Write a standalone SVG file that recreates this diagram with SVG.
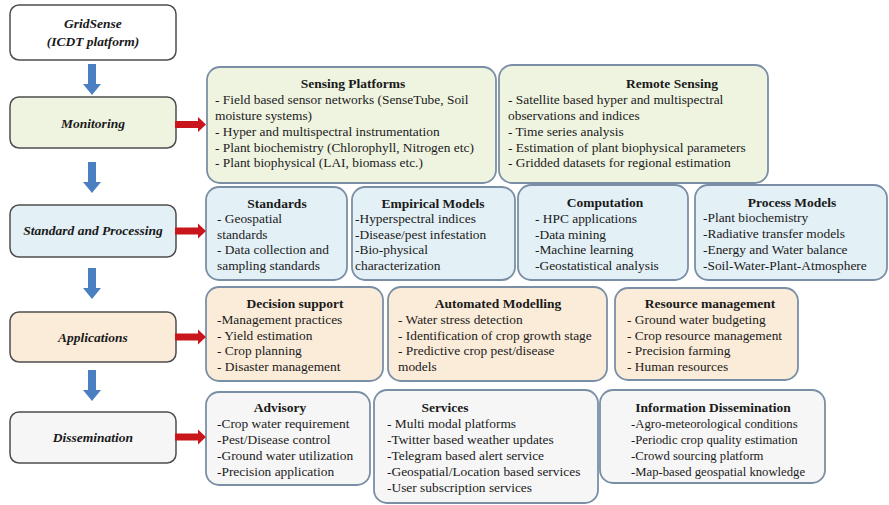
<svg xmlns="http://www.w3.org/2000/svg" width="889" height="505" viewBox="0 0 889 505">
  <style>
    .stage { stroke: #4d4d4d; stroke-width: 1.5; }
    .card { stroke: #7a8fa6; stroke-width: 1.8; }
    .green { fill: #eff4e1; }
    .blue { fill: #e3f0f6; }
    .peach { fill: #fbecd9; }
    .grey { fill: #f6f6f6; }
    .white { fill: #ffffff; }
    text { font-family: "Liberation Serif", "Times New Roman", serif; fill: #1a1a1a; }
    .label { font-size: 13.5px; font-weight: bold; font-style: italic; text-anchor: middle; }
    .title { font-size: 13.5px; font-weight: bold; text-anchor: middle; }
    .item { font-size: 13.4px; }
    .item.small { font-size: 12.7px; }
    .down { fill: #4a80c2; }
    .right { fill: #c8161c; }
  </style>

  <!-- stage boxes on the left -->
  <g id="gridsense">
    <rect class="stage white" x="10" y="5" width="166" height="55" rx="9"/>
    <text class="label" x="93" y="28">GridSense</text>
    <text class="label" x="93" y="46">(ICDT platform)</text>
  </g>
  <g id="monitoring">
    <rect class="stage green" x="10" y="97" width="166" height="51" rx="9"/>
    <text class="label" x="93" y="128">Monitoring</text>
  </g>
  <g id="standard-processing">
    <rect class="stage blue" x="10" y="205" width="166" height="52" rx="9"/>
    <text class="label" x="93" y="235">Standard and Processing</text>
  </g>
  <g id="applications">
    <rect class="stage peach" x="10" y="312" width="166" height="50" rx="9"/>
    <text class="label" x="93" y="342">Applications</text>
  </g>
  <g id="dissemination">
    <rect class="stage grey" x="10" y="412" width="166" height="51" rx="9"/>
    <text class="label" x="93" y="442">Dissemination</text>
  </g>

  <!-- monitoring row -->
  <g id="sensing-platforms">
    <rect class="card green" x="207" y="67" width="289" height="116" rx="13"/>
    <text class="title" x="353" y="88">Sensing Platforms</text>
    <text class="item" x="215" y="104">- Field based sensor networks (SenseTube, Soil</text>
    <text class="item" x="215" y="120">moisture systems)</text>
    <text class="item" x="215" y="136">- Hyper and multispectral instrumentation</text>
    <text class="item" x="215" y="152">- Plant biochemistry (Chlorophyll, Nitrogen etc)</text>
    <text class="item" x="215" y="167">- Plant biophysical (LAI, biomass etc.)</text>
  </g>
  <g id="remote-sensing">
    <rect class="card green" x="499" y="65" width="269" height="118" rx="13"/>
    <text class="title" x="672" y="88">Remote Sensing</text>
    <text class="item" x="508" y="104">- Satellite based hyper and multispectral</text>
    <text class="item" x="508" y="120">observations and indices</text>
    <text class="item" x="508" y="136">- Time series analysis</text>
    <text class="item" x="508" y="152">- Estimation of plant biophysical parameters</text>
    <text class="item" x="508" y="167">- Gridded datasets for regional estimation</text>
  </g>

  <!-- standard and processing row -->
  <g id="standards">
    <rect class="card blue" x="206" y="187" width="141" height="93" rx="13"/>
    <text class="title" x="277" y="208">Standards</text>
    <text class="item" x="217" y="223">- Geospatial</text>
    <text class="item" x="217" y="239">standards</text>
    <text class="item" x="217" y="254">- Data collection and</text>
    <text class="item" x="217" y="270">sampling standards</text>
  </g>
  <g id="empirical-models">
    <rect class="card blue" x="352" y="187" width="163" height="93" rx="13"/>
    <text class="title" x="433" y="208">Empirical Models</text>
    <text class="item" x="355" y="223">-Hyperspectral indices</text>
    <text class="item" x="355" y="239">-Disease/pest infestation</text>
    <text class="item" x="355" y="254">-Bio-physical</text>
    <text class="item" x="355" y="270">characterization</text>
  </g>
  <g id="computation">
    <rect class="card blue" x="518" y="185" width="170" height="95" rx="13"/>
    <text class="title" x="605" y="207">Computation</text>
    <text class="item" x="535" y="223">- HPC applications</text>
    <text class="item" x="535" y="239">-Data mining</text>
    <text class="item" x="535" y="254">-Machine learning</text>
    <text class="item" x="535" y="270">-Geostatistical analysis</text>
  </g>
  <g id="process-models">
    <rect class="card blue" x="695" y="185" width="192" height="95" rx="13"/>
    <text class="title" x="792" y="207">Process Models</text>
    <text class="item" x="703" y="222">-Plant biochemistry</text>
    <text class="item" x="703" y="238">-Radiative transfer models</text>
    <text class="item" x="703" y="254">-Energy and Water balance</text>
    <text class="item" x="703" y="270">-Soil-Water-Plant-Atmosphere</text>
  </g>

  <!-- applications row -->
  <g id="decision-support">
    <rect class="card peach" x="206" y="287" width="177" height="94" rx="13"/>
    <text class="title" x="295" y="308">Decision support</text>
    <text class="item" x="217" y="324">-Management practices</text>
    <text class="item" x="217" y="340">- Yield estimation</text>
    <text class="item" x="217" y="355">- Crop planning</text>
    <text class="item" x="217" y="371">- Disaster management</text>
  </g>
  <g id="automated-modelling">
    <rect class="card peach" x="388" y="287" width="219" height="94" rx="13"/>
    <text class="title" x="498" y="308">Automated Modelling</text>
    <text class="item" x="398" y="324">- Water stress detection</text>
    <text class="item" x="398" y="340">- Identification of crop growth stage</text>
    <text class="item" x="398" y="355">- Predictive crop pest/disease</text>
    <text class="item" x="398" y="371">models</text>
  </g>
  <g id="resource-management">
    <rect class="card peach" x="615" y="288" width="183" height="92" rx="13"/>
    <text class="title" x="710" y="308">Resource management</text>
    <text class="item" x="627" y="324">- Ground water budgeting</text>
    <text class="item" x="627" y="340">- Crop resource management</text>
    <text class="item" x="627" y="355">- Precision farming</text>
    <text class="item" x="627" y="371">- Human resources</text>
  </g>

  <!-- dissemination row -->
  <g id="advisory">
    <rect class="card grey" x="206" y="392" width="164" height="93" rx="13"/>
    <text class="title" x="280" y="412">Advisory</text>
    <text class="item" x="217" y="428">-Crop water requirement</text>
    <text class="item" x="217" y="444">-Pest/Disease control</text>
    <text class="item" x="217" y="460">-Ground water utilization</text>
    <text class="item" x="217" y="476">-Precision application</text>
  </g>
  <g id="services">
    <rect class="card grey" x="374" y="390" width="224" height="113" rx="13"/>
    <text class="title" x="445" y="412">Services</text>
    <text class="item" x="387" y="428">- Multi modal platforms</text>
    <text class="item" x="387" y="444">-Twitter based weather updates</text>
    <text class="item" x="387" y="460">-Telegram based alert service</text>
    <text class="item" x="387" y="476">-Geospatial/Location based services</text>
    <text class="item" x="387" y="492">-User subscription services</text>
  </g>
  <g id="information-dissemination">
    <rect class="card grey" x="600" y="390" width="225" height="93" rx="13"/>
    <text class="title" x="713" y="412">Information Dissemination</text>
    <text class="item small" x="631" y="428">-Agro-meteorological conditions</text>
    <text class="item small" x="631" y="444">-Periodic crop quality estimation</text>
    <text class="item small" x="631" y="460">-Crowd sourcing platform</text>
    <text class="item small" x="631" y="476">-Map-based geospatial knowledge</text>
  </g>

  <!-- connectors -->
  <g id="connectors">
    <polygon class="down" points="88,64 96,64 96,84 101,84 92,95 83,84 88,84"/>
    <polygon class="down" points="88,162 96,162 96,182 101,182 92,193 83,182 88,182"/>
    <polygon class="down" points="88,268 96,268 96,288 101,288 92,299 83,288 88,288"/>
    <polygon class="down" points="88,370 96,370 96,390 101,390 92,401 83,390 88,390"/>
    <polygon class="right" points="175,121 198,121 198,117 206,124.5 198,132 198,128 175,128"/>
    <polygon class="right" points="175,227.5 198,227.5 198,223.5 206,231 198,238.5 198,234.5 175,234.5"/>
    <polygon class="right" points="175,333.5 198,333.5 198,329.5 206,337 198,344.5 198,340.5 175,340.5"/>
    <polygon class="right" points="175,433.5 198,433.5 198,429.5 206,437 198,444.5 198,440.5 175,440.5"/>
  </g>
</svg>
